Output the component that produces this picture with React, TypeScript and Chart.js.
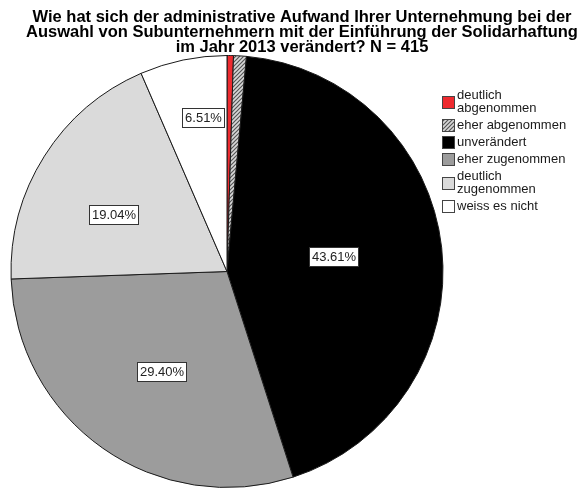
import React, { useEffect, useRef } from "react";
import { Chart, ArcElement, PieController } from "chart.js";

Chart.register(ArcElement, PieController);

const TITLE_LINES = [
  "Wie hat sich der administrative Aufwand Ihrer Unternehmung bei der",
  "Auswahl von Subunternehmern mit der Einführung der Solidarhaftung",
  "im Jahr 2013 verändert? N = 415",
];

const CATEGORIES = [
  ["deutlich", "abgenommen"],
  ["eher abgenommen"],
  ["unverändert"],
  ["eher zugenommen"],
  ["deutlich", "zugenommen"],
  ["weiss es nicht"],
];

const PERCENT = [0.48, 0.96, 43.61, 29.4, 19.04, 6.51];

const COLORS = ["#ee2a2f", "hatch", "#000000", "#9c9c9c", "#dadada", "#ffffff"];

// label placement style: radius fraction and angle shift (degrees)
const LABEL_STYLE = [
  null,
  null,
  { rf: 0.497, da: -1.5 },
  { rf: 0.553, da: -1.6 },
  { rf: 0.589, da: -5.8 },
  { rf: 0.722, da: 2.7 },
];

const FONT = '"Liberation Sans", Arial, sans-serif';

function makeHatch(): CanvasPattern | string {
  const c = document.createElement("canvas");
  c.width = 4;
  c.height = 4;
  const g = c.getContext("2d");
  if (!g) return "#888";
  g.fillStyle = "#d8d8d8";
  g.fillRect(0, 0, 4, 4);
  g.strokeStyle = "#555555";
  g.lineWidth = 1.2;
  g.beginPath();
  g.moveTo(0, 4);
  g.lineTo(4, 0);
  g.moveTo(-1, 1);
  g.lineTo(1, -1);
  g.moveTo(3, 5);
  g.lineTo(5, 3);
  g.stroke();
  const p = g.createPattern(c, "repeat");
  return p || "#888";
}

export default function App() {
  const ref = useRef<HTMLCanvasElement | null>(null);

  useEffect(() => {
    const canvas = ref.current;
    if (!canvas) return;
    const hatch = makeHatch();
    const fills = COLORS.map((c) => (c === "hatch" ? hatch : c));

    const overlay = {
      id: "overlay",
      afterDatasetsDraw(chart: any) {
        const ctx = chart.ctx as CanvasRenderingContext2D;
        const meta = chart.getDatasetMeta(0);
        ctx.save();
        ctx.font = `13px ${FONT}`;
        ctx.textAlign = "center";
        ctx.textBaseline = "middle";
        meta.data.forEach((arc: any, i: number) => {
          const st = LABEL_STYLE[i];
          if (!st) return;
          const { x, y, startAngle, endAngle, outerRadius } = arc.getProps(
            ["x", "y", "startAngle", "endAngle", "outerRadius"],
            true
          );
          const mid = (startAngle + endAngle) / 2 + (st.da * Math.PI) / 180;
          const r = outerRadius * st.rf;
          const cx = x + r * Math.cos(mid);
          const cy = y + r * Math.sin(mid);
          const text = PERCENT[i].toFixed(2) + "%";
          const w = Math.round(ctx.measureText(text).width + 5);
          const h = 19;
          const left = Math.round(cx - w / 2) + 0.5;
          const top = Math.round(cy - h / 2) + 0.5;
          ctx.fillStyle = "#ffffff";
          ctx.fillRect(left, top, w, h);
          ctx.strokeStyle = "#333333";
          ctx.lineWidth = 1;
          ctx.strokeRect(left, top, w, h);
          ctx.fillStyle = "#222222";
          ctx.fillText(text, left + w / 2, top + h / 2 + 0.5);
        });
        ctx.restore();
      },
      afterDraw(chart: any) {
        const ctx = chart.ctx as CanvasRenderingContext2D;
        ctx.save();
        // title
        ctx.font = `bold 16.5px ${FONT}`;
        ctx.fillStyle = "#000000";
        ctx.textAlign = "center";
        ctx.textBaseline = "alphabetic";
        const baselines = [21.5, 36.5, 51.5];
        TITLE_LINES.forEach((t, i) => ctx.fillText(t, 302, baselines[i]));
        // legend
        ctx.font = `13px ${FONT}`;
        ctx.textAlign = "left";
        ctx.textBaseline = "middle";
        const lineH = 13;
        const gap = 4;
        let top = 88;
        CATEGORIES.forEach((lines, i) => {
          const ih = lines.length * lineH + gap;
          const center = top + (lines.length * lineH) / 2 + 1;
          const bx = 442.5;
          const by = Math.round(center - 6.5) + 0.5;
          ctx.fillStyle = fills[i] as any;
          ctx.fillRect(bx, by, 12, 12);
          ctx.strokeStyle = "#444444";
          ctx.lineWidth = 1;
          ctx.strokeRect(bx, by, 12, 12);
          ctx.fillStyle = "#1a1a1a";
          lines.forEach((ln, j) => {
            ctx.fillText(ln, 457, top + lineH * j + lineH / 2 + 1);
          });
          top += ih;
        });
        ctx.restore();
      },
    };

    const chart = new Chart(canvas, {
      type: "pie",
      data: {
        labels: CATEGORIES.map((l) => l.join(" ")),
        datasets: [
          {
            data: PERCENT,
            backgroundColor: fills as any,
            borderColor: "#1a1a1a",
            borderWidth: 1,
          },
        ],
      },
      options: {
        responsive: false,
        animation: false,
        layout: { padding: { left: 10, top: 55, right: 138, bottom: 1 } },
        plugins: {
          legend: { display: false },
          tooltip: { enabled: false },
          title: { display: false },
        },
      } as any,
      plugins: [overlay],
    });
    return () => chart.destroy();
  }, []);

  return (
    <div style={{ position: "absolute", left: 0, top: 0, width: 582, height: 489, background: "#fff" }}>
      <canvas ref={ref} width={582} height={489} />
    </div>
  );
}
